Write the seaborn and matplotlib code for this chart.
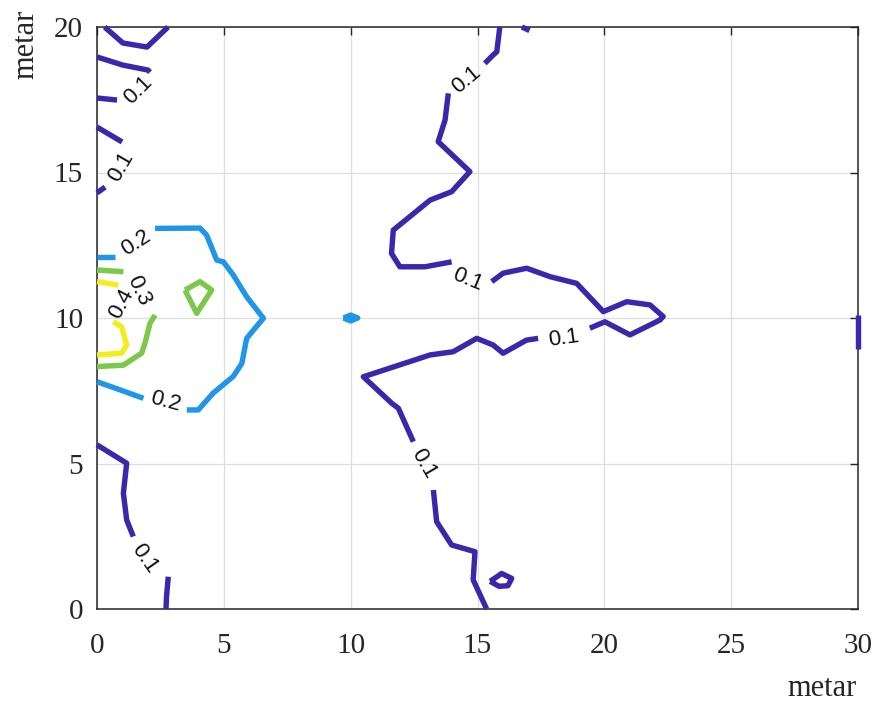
import numpy as np
import pandas as pd
import matplotlib
matplotlib.use("Agg")
import matplotlib.pyplot as plt
import seaborn as sns

# ---------------- data (contour paths, in metres) ----------------
levels = [0.1, 0.2, 0.3, 0.4]
level_colors = ["#3b27ab", "#2196e8", "#7cc84a", "#f2ee1c"]

# level 0.1 (dark blue) -- each entry is one drawn piece of the contour
c01_segments = [
    [(0.30, 20.0), (1.02, 19.45), (1.97, 19.31), (2.80, 20.0)],
    [(0.0, 18.97), (1.02, 18.69), (2.01, 18.52), (2.09, 18.45)],
    [(0.79, 17.49), (0.0, 17.56)],
    [(0.0, 16.56), (0.99, 16.05)],
    [(0.32, 14.50), (0.0, 14.30)],
    [(0.0, 5.64), (1.17, 5.01), (1.04, 3.98), (1.17, 3.06), (1.43, 2.49)],
    [(2.81, 1.11), (2.74, 0.42), (2.72, 0.0)],
    [(15.88, 20.0), (15.76, 19.15), (15.62, 19.04), (15.29, 18.75)],
    [(13.85, 17.72), (13.72, 16.80), (13.45, 16.06), (14.70, 15.03), (13.98, 14.34),
     (13.13, 14.05), (11.68, 13.02), (11.61, 12.22), (11.94, 11.76), (12.93, 11.76),
     (13.98, 11.93)],
    [(15.56, 11.25), (16.01, 11.54), (16.94, 11.71), (17.86, 11.42), (18.91, 11.19),
     (19.96, 10.22), (20.88, 10.56), (21.80, 10.45), (22.32, 10.05), (22.19, 9.93),
     (21.01, 9.42), (20.02, 9.87), (19.43, 9.65)],
    [(17.39, 9.30), (16.93, 9.24), (16.01, 8.79), (15.62, 9.07), (14.97, 9.30),
     (14.04, 8.84), (13.13, 8.73), (10.50, 7.98), (11.62, 7.07), (11.88, 6.90),
     (12.47, 5.75)],
    [(13.26, 4.09), (13.39, 3.00), (13.98, 2.20), (14.90, 1.97), (14.83, 1.00),
     (15.36, 0.0)],
    [(15.50, 0.95), (15.95, 1.22), (16.35, 1.05), (16.20, 0.80), (15.85, 0.78),
     (15.50, 0.95)],
    [(16.75, 20.0), (17.05, 19.88)],
    [(30.0, 10.1), (30.0, 8.95)],
]

# level 0.2 (light blue)
c02_segments = [
    [(2.29, 13.08), (4.06, 13.09), (4.32, 12.85), (4.72, 11.99), (4.98, 11.93),
     (5.37, 11.48), (5.90, 10.73), (6.56, 9.99), (6.23, 9.65), (5.90, 9.30),
     (5.71, 8.44), (5.37, 7.99), (4.58, 7.42), (3.99, 6.84), (3.54, 6.84)],
    [(1.83, 7.24), (0.91, 7.53), (0.0, 7.81)],
    [(0.71, 12.11), (0.0, 12.11)],
    [(9.72, 10.0), (10.0, 10.10), (10.28, 10.0), (10.0, 9.90), (9.72, 10.0)],
]

# level 0.3 (green)
c03_segments = [
    [(0.0, 11.65), (1.04, 11.59)],
    [(2.29, 10.10), (2.09, 9.82), (1.89, 9.13), (1.76, 8.79), (1.04, 8.38), (0.0, 8.33)],
    [(3.47, 10.96), (4.06, 11.25), (4.52, 10.96), (3.93, 10.16), (3.47, 10.96)],
]

# level 0.4 (yellow)
c04_segments = [
    [(0.0, 11.25), (0.84, 11.13)],
    [(0.64, 9.87), (0.97, 9.70), (1.17, 9.07), (0.97, 8.79), (0.0, 8.73)],
]

# contour labels: text, x, y, rotation
label_text = ["0.1", "0.1", "0.1", "0.1", "0.1", "0.1", "0.1",
              "0.2", "0.2", "0.3", "0.4"]
label_x = [1.62, 0.95, 1.89, 14.57, 14.62, 18.38, 12.86, 1.56, 2.68, 1.66, 0.97]
label_y = [17.84, 15.19, 1.75, 18.18, 11.31, 9.30, 5.01, 12.57, 7.12, 10.93, 10.48]
label_rot = [45, 60, -55, 40, -22, 8, -60, 33, -15, -65, 62]

x_ticks = [0, 5, 10, 15, 20, 25, 30]
y_ticks = [0, 5, 10, 15, 20]
x_label = "metar"
y_label = "metar"

# ---------------- build long table ----------------
rows = []
all_levels = [c01_segments, c02_segments, c03_segments, c04_segments]
for li, segs in enumerate(all_levels):
    for si, seg in enumerate(segs):
        for order, (px, py) in enumerate(seg):
            rows.append({"level": levels[li], "seg": f"{li}_{si}", "order": order,
                         "x": px, "y": py})
df = pd.DataFrame(rows)

# ---------------- figure ----------------
sns.set_style("white")
plt.rcParams["font.family"] = ["Liberation Serif", "DejaVu Serif"]

fig = plt.figure(figsize=(8.8, 7.03), dpi=100)
ax = fig.add_axes([97 / 880, 1 - 609 / 703, (858 - 97) / 880, (609 - 27) / 703])

for li, lev in enumerate(levels):
    sub = df[df["level"] == lev]
    for seg_id, g in sub.groupby("seg", sort=False):
        sns.lineplot(data=g, x="x", y="y", sort=False, estimator=None,
                     color=level_colors[li], linewidth=3.9, ax=ax,
                     solid_capstyle="butt", solid_joinstyle="round",
                     clip_on=False, zorder=3)

for t, lx, ly, r in zip(label_text, label_x, label_y, label_rot):
    ax.text(lx, ly, t, rotation=r, ha="center", va="center",
            fontsize=16, family=["Liberation Sans", "DejaVu Sans"],
            color="#111111", rotation_mode="anchor", zorder=4)

ax.set_xlim(0, 30)
ax.set_ylim(0, 20)
ax.set_xticks(x_ticks)
ax.set_yticks(y_ticks)
ax.set_xticklabels([str(v) for v in x_ticks])
ax.set_yticklabels([str(v) for v in y_ticks])
ax.grid(True, color="#dedede", linewidth=0.9, zorder=0)
ax.set_axisbelow(True)
for s in ax.spines.values():
    s.set_visible(True)
    s.set_color("#262626")
    s.set_linewidth(1.1)
ax.tick_params(axis="both", direction="in", length=6, width=1.0, color="#262626",
               labelsize=21, labelcolor="#262626", top=True, right=True)
ax.tick_params(axis="x", pad=17)
ax.tick_params(axis="y", pad=10)

ax.set_xlabel(x_label, fontsize=22, color="#262626", ha="center", va="center")
ax.xaxis.set_label_coords((822 - 97) / 761, (609 - 689) / 582)
ax.set_ylabel(y_label, fontsize=22, color="#262626", ha="center", va="center")
ax.yaxis.set_label_coords((26 - 97) / 761, (609 - 44) / 582)

fig.savefig("out.png", dpi=100)
